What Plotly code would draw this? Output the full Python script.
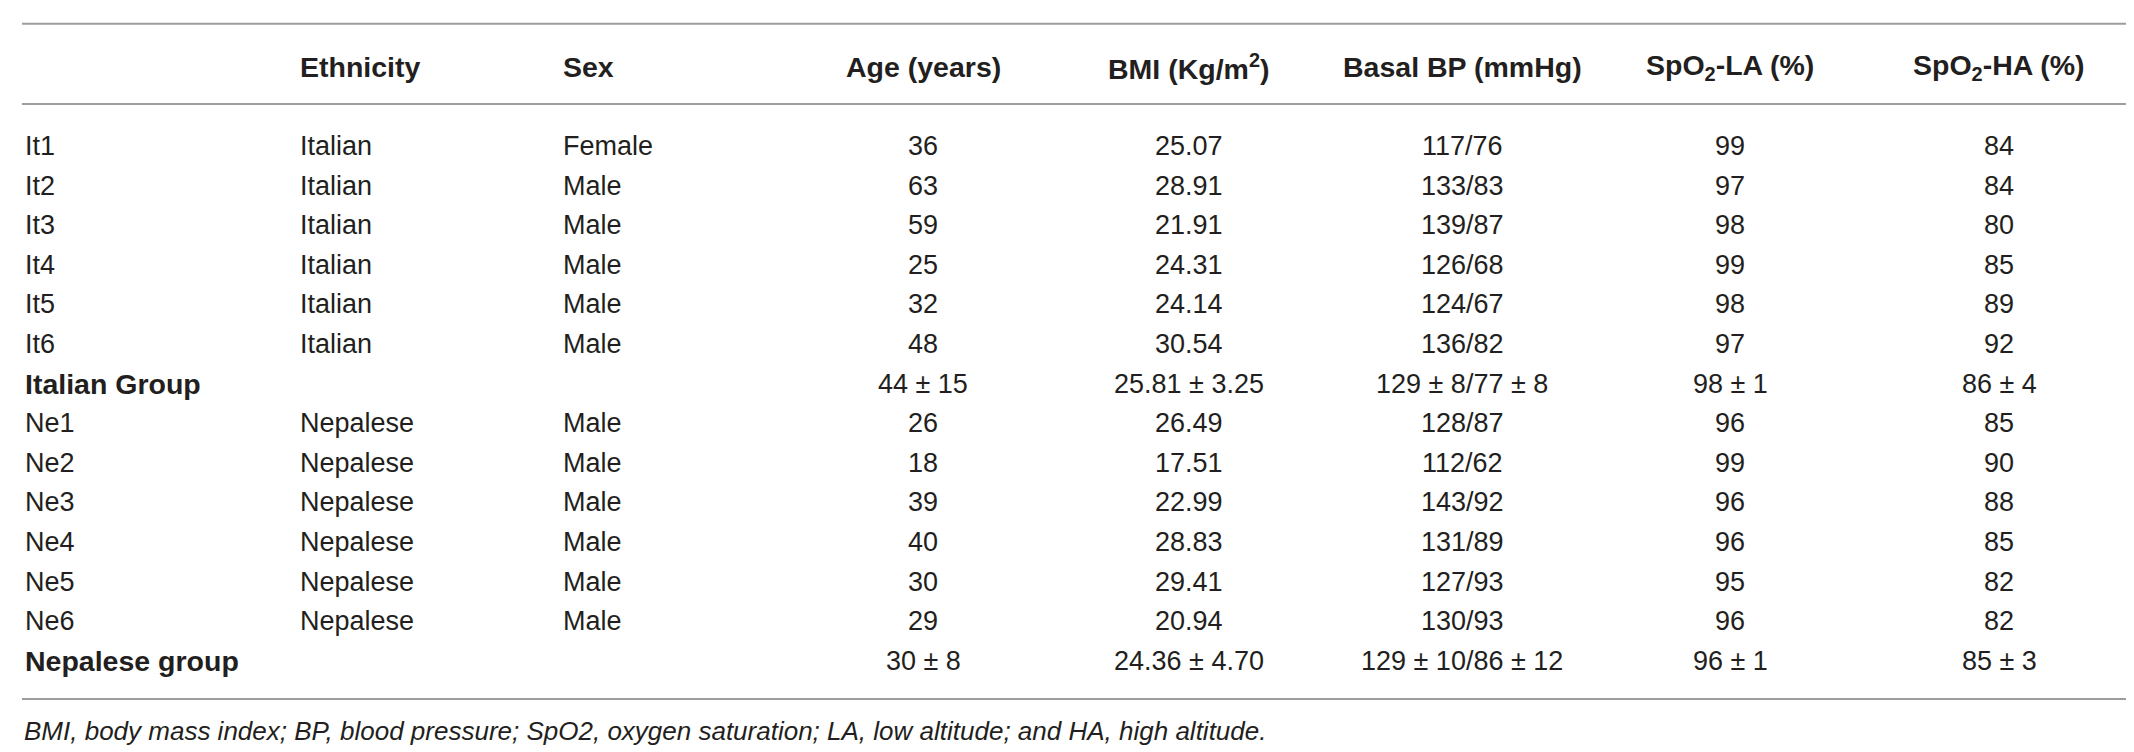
import plotly.graph_objects as go

# ---------------- data ----------------
headers = ["", "Ethnicity", "Sex", "Age (years)", "BMI (Kg/m<sup>2</sup>)",
           "Basal BP (mmHg)", "SpO<sub>2</sub>-LA (%)", "SpO<sub>2</sub>-HA (%)"]
subjects = ["It1", "It2", "It3", "It4", "It5", "It6", "Italian Group",
            "Ne1", "Ne2", "Ne3", "Ne4", "Ne5", "Ne6", "Nepalese group"]
ethnicity = ["Italian", "Italian", "Italian", "Italian", "Italian", "Italian", "",
             "Nepalese", "Nepalese", "Nepalese", "Nepalese", "Nepalese", "Nepalese", ""]
sex = ["Female", "Male", "Male", "Male", "Male", "Male", "",
       "Male", "Male", "Male", "Male", "Male", "Male", ""]
age = ["36", "63", "59", "25", "32", "48", "44 ± 15",
       "26", "18", "39", "40", "30", "29", "30 ± 8"]
bmi = ["25.07", "28.91", "21.91", "24.31", "24.14", "30.54", "25.81 ± 3.25",
       "26.49", "17.51", "22.99", "28.83", "29.41", "20.94", "24.36 ± 4.70"]
basal_bp = ["117/76", "133/83", "139/87", "126/68", "124/67", "136/82", "129 ± 8/77 ± 8",
            "128/87", "112/62", "143/92", "131/89", "127/93", "130/93", "129 ± 10/86 ± 12"]
spo2_la = ["99", "97", "98", "99", "98", "97", "98 ± 1",
           "96", "99", "96", "96", "95", "96", "96 ± 1"]
spo2_ha = ["84", "84", "80", "85", "89", "92", "86 ± 4",
           "85", "90", "88", "85", "82", "82", "85 ± 3"]
group_rows = ["Italian Group", "Nepalese group"]
footnote = ("BMI, body mass index; BP, blood pressure; SpO2, oxygen saturation; "
            "LA, low altitude; and HA, high altitude.")

columns = [subjects, ethnicity, sex, age, bmi, basal_bp, spo2_la, spo2_ha]

# ---------------- layout ----------------
W, H = 2134, 752
col_x = [15, 290, 553, 915, 1181, 1454, 1722, 1991]
col_anchor = ["left", "left", "left", "center", "center", "center", "center", "center"]
header_y = 59
row_y0, row_dy = 138, 39.6
line_top, line_head, line_bottom = 15.7, 96, 691
line_x0, line_x1 = 14, 2119
foot_y = 723

TXT = "#231f20"
FONT = "Liberation Sans, Arial, Helvetica, sans-serif"
FS = 27
FS_BOLD = 28.5
FS_FOOT = 26

annotations = []
for c, (hdr, x, anc) in enumerate(zip(headers, col_x, col_anchor)):
    if hdr:
        annotations.append(dict(x=x, y=header_y, text=f"<b>{hdr}</b>", xanchor=anc,
                                yanchor="middle", showarrow=False,
                                font=dict(family=FONT, size=FS_BOLD, color=TXT)))
for c, (col, x, anc) in enumerate(zip(columns, col_x, col_anchor)):
    for r, val in enumerate(col):
        if not val:
            continue
        txt, size = val, FS
        if c == 0 and val in group_rows:
            txt, size = f"<b>{val}</b>", FS_BOLD
        annotations.append(dict(x=x, y=row_y0 + r * row_dy, text=txt, xanchor=anc,
                                yanchor="middle", showarrow=False,
                                font=dict(family=FONT, size=size, color=TXT)))
annotations.append(dict(x=line_x0, y=foot_y, text=f"<i>{footnote}</i>", xanchor="left",
                        yanchor="middle", showarrow=False,
                        font=dict(family=FONT, size=FS_FOOT, color=TXT)))

shapes = [dict(type="line", x0=line_x0, x1=line_x1, y0=yy, y1=yy, xref="x", yref="y",
               line=dict(color="#9d9d9d", width=2))
          for yy in (line_top, line_head, line_bottom)]

fig = go.Figure()
fig.update_layout(
    width=W, height=H,
    margin=dict(l=0, r=0, t=0, b=0),
    paper_bgcolor="white", plot_bgcolor="white",
    xaxis=dict(range=[0, W], visible=False, fixedrange=True),
    yaxis=dict(range=[H, 0], visible=False, fixedrange=True),
    annotations=annotations,
    shapes=shapes,
    showlegend=False,
)
fig.write_html("out.html", config={"displayModeBar": False})
